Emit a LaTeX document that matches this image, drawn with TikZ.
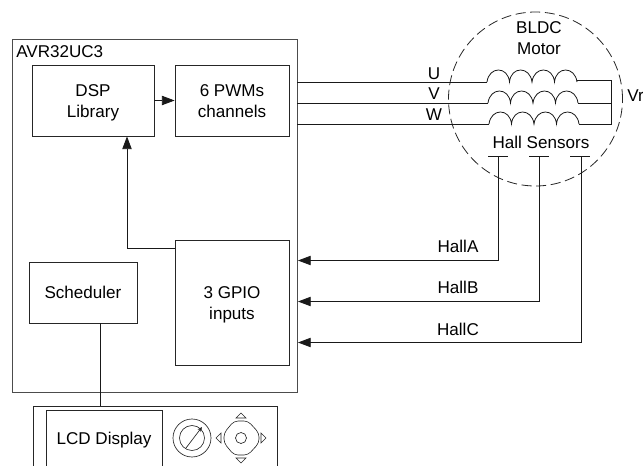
\documentclass[tikz,border=0pt]{standalone}
\usepackage{fontspec}
\setmainfont{Liberation Sans}
\usetikzlibrary{arrows.meta,calc}
\newcommand{\twolines}[2]{\rule{0pt}{12.5pt}#1\\#2\rule[-3pt]{0pt}{3pt}}
\tikzset{
  blk/.style={draw=black!85,line width=0.6pt,inner sep=0pt,align=center,font=\fontsize{12.8}{15.8}\selectfont},
  lbl/.style={inner sep=0pt,font=\fontsize{12.8}{16}\selectfont},
  wire/.style={draw=black!90,line width=0.6pt},
  arr/.style={wire,-{Triangle[length=9.5pt,width=7pt]}},
  tri/.style={draw=black!85,line width=0.45pt},
}
\newcommand{\coilat}[2]{% x y
  \draw[wire] (#1,#2) .. controls (#1+2,#2-16) and (#1+21,#2-16) .. (#1+22.5,#2)
   .. controls (#1+24,#2-16) and (#1+43,#2-16) .. (#1+45,#2)
   .. controls (#1+47,#2-16) and (#1+66,#2-16) .. (#1+67.5,#2)
   .. controls (#1+69,#2-16) and (#1+88,#2-16) .. (#1+90,#2);}
\begin{document}
\begin{tikzpicture}[x=0.75pt,y=-0.75pt]
\useasboundingbox (0,0) rectangle (643,465);
\begin{scope}
\clip (0,0) rectangle (643,465);
% main boxes
\node[blk,draw=black!70,minimum width=285*0.75pt,minimum height=353*0.75pt] (avr) at (154.5,215.5) {};
\node[lbl,anchor=west] (avrt) at (16,52) {AVR32UC3};
\node[blk,minimum width=122*0.75pt,minimum height=71*0.75pt] (dsp) at (93,100.5) {\twolines{DSP}{Library}};
\node[blk,minimum width=114*0.75pt,minimum height=71*0.75pt] (pwm) at (232,100.5) {\twolines{6 PWMs}{channels}};
\node[blk,minimum width=114*0.75pt,minimum height=125*0.75pt] (gpio) at (232,302.5) {\twolines{3 GPIO}{inputs}};
\node[blk,minimum width=108*0.75pt,minimum height=61*0.75pt] (sch) at (83,292.5) {Scheduler};
% panel
\node[blk,minimum width=244*0.75pt,minimum height=70*0.75pt] (panel) at (155,441) {};
\node[blk,minimum width=116*0.75pt,minimum height=60*0.75pt] (lcd) at (104,440) {LCD Display};
% motor
\node[draw=black!85,dash pattern=on 7.5pt off 3.5pt,line width=0.6pt,circle,minimum size=174*0.75pt,inner sep=0pt] (motor) at (535.5,99) {};
\node[lbl,align=center,font=\fontsize{12.8}{15.8}\selectfont] (mt) at (539,38) {BLDC\\Motor};
\node[lbl] (hs) at (541,142) {Hall Sensors};
\node[lbl,anchor=west] (vr) at (627,96) {Vr};
% windings
\coordinate (cu) at (487,82); \coordinate (cv) at (488,103); \coordinate (cw) at (489,124);
\coordinate (eu) at (577,80.5); \coordinate (ev) at (578,103); \coordinate (ew) at (579,124);
\coordinate (star1) at (611,80.5); \coordinate (star2) at (611,103); \coordinate (star3) at (611,124);
\coilat{487}{82}\coilat{488}{103}\coilat{489}{124}
\draw[wire] ($(avr.east|-cu)$) -- (cu);
\draw[wire] ($(avr.east|-cv)$) -- (cv);
\draw[wire] ($(avr.east|-cw)$) -- (cw);
\draw[wire] (eu) -- (star1) -- (star3) -- (ew);
\draw[wire] (ev) -- (star2);
\node[lbl] (lu) at (434,73.5) {U};
\node[lbl] (lv) at (434,94) {V};
\node[lbl] (lw) at (434,115) {W};
% hall sensors
\coordinate (ta) at (498.5,156.5); \coordinate (tb) at (539,156.5); \coordinate (tc) at (581,156.5);
\draw[wire] (488,156.5) -- (508,156.5);
\draw[wire] (529,156.5) -- (549,156.5);
\draw[wire] (570,156.5) -- (590,156.5);
\coordinate (ga) at (298,260.5); \coordinate (gb) at (298,301.5); \coordinate (gc) at (298,342.5);
\draw[arr] (ta) |- (ga);
\draw[arr] (tb) |- (gb);
\draw[arr] (tc) |- (gc);
\node[lbl] (ha) at (458,246) {HallA};
\node[lbl] (hb) at (458,287) {HallB};
\node[lbl] (hc) at (458,329) {HallC};
% internal connectors
\draw[arr] (dsp.east) -- (pwm.west);
\coordinate (bend) at (127,248);
\draw[arr] (gpio.west|-bend) -- (bend) -- (dsp.south-|bend);
\draw[wire] (sch.south-|100,0) -- (panel.north-|100,0);
% knob
\node[draw=black!85,circle,line width=0.5pt,minimum size=38*0.75pt,inner sep=0pt] (knobo) at (192,438) {};
\node[draw=black!85,circle,line width=0.5pt,minimum size=25*0.75pt,inner sep=0pt] (knobi) at (192,438) {};
\draw[line width=0.5pt,draw=black!85,-{Stealth[length=3.5pt,width=3pt]}] (186,448) -- (202,427);
% joystick
\node[draw=black!85,circle,line width=0.5pt,minimum size=11*0.75pt,inner sep=0pt] (joyc) at (241,438) {};
\draw[tri,rounded corners=3pt] (234,421) -- (248,421) -- (259,433) -- (259,443) -- (248,455) -- (234,455) -- (224,443) -- (224,433) -- cycle;
\draw[tri] (241,413) -- (246,418) -- (236,418) -- cycle;
\draw[tri] (241,463) -- (246,458) -- (236,458) -- cycle;
\draw[tri] (216,438) -- (221,433) -- (221,443) -- cycle;
\draw[tri] (266,438) -- (261,433) -- (261,443) -- cycle;
\end{scope}
\end{tikzpicture}
\end{document}
